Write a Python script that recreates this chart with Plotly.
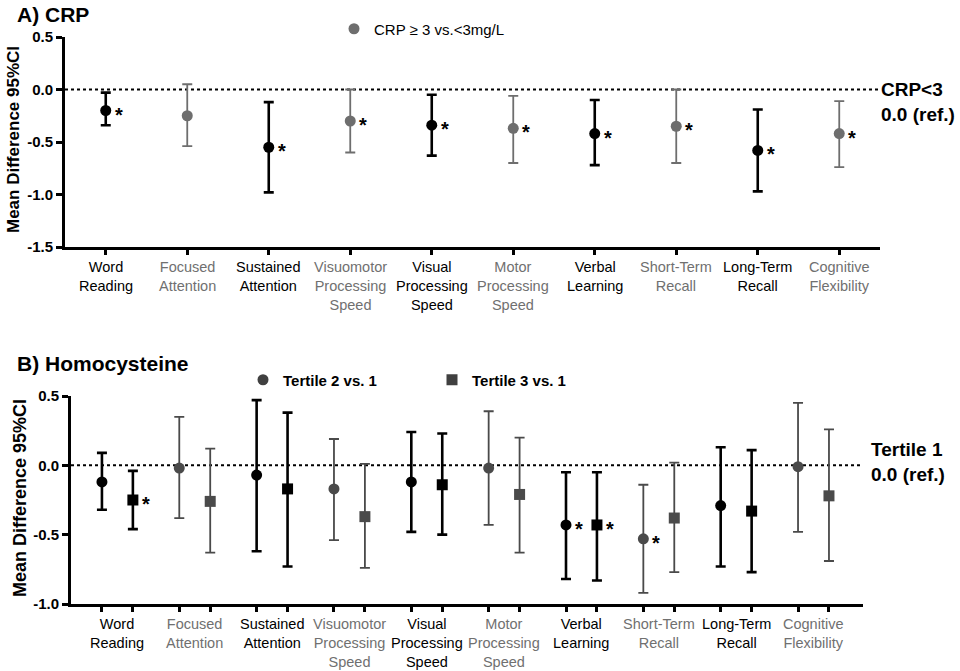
import plotly.graph_objects as go

# Dominios cognitivos
categories = ["Word<br>Reading", "Focused<br>Attention", "Sustained<br>Attention",
              "Visuomotor<br>Processing<br>Speed", "Visual<br>Processing<br>Speed",
              "Motor<br>Processing<br>Speed", "Verbal<br>Learning", "Short-Term<br>Recall",
              "Long-Term<br>Recall", "Cognitive<br>Flexibility"]

# A) CRP >= 3 vs. <3 mg/L
crp_mean = [-0.20, -0.25, -0.55, -0.30, -0.34, -0.37, -0.42, -0.35, -0.58, -0.42]
crp_lo = [-0.34, -0.54, -0.98, -0.60, -0.63, -0.70, -0.72, -0.70, -0.97, -0.74]
crp_hi = [-0.03, 0.05, -0.12, 0.00, -0.05, -0.06, -0.10, 0.00, -0.19, -0.11]
crp_sig = [1, 0, 1, 1, 1, 1, 1, 1, 1, 1]

# B) Homocisteina, tertil 2 vs. 1
t2_mean = [-0.12, -0.02, -0.07, -0.17, -0.12, -0.02, -0.43, -0.53, -0.29, -0.01]
t2_lo = [-0.32, -0.38, -0.62, -0.54, -0.48, -0.43, -0.82, -0.92, -0.73, -0.48]
t2_hi = [0.09, 0.35, 0.47, 0.19, 0.24, 0.39, -0.05, -0.14, 0.13, 0.45]
t2_sig = [0, 0, 0, 0, 0, 0, 1, 1, 0, 0]

# B) Homocisteina, tertil 3 vs. 1
t3_mean = [-0.25, -0.26, -0.17, -0.37, -0.14, -0.21, -0.43, -0.38, -0.33, -0.22]
t3_lo = [-0.46, -0.63, -0.73, -0.74, -0.50, -0.63, -0.83, -0.77, -0.77, -0.69]
t3_hi = [-0.04, 0.12, 0.38, 0.01, 0.23, 0.20, -0.05, 0.02, 0.11, 0.26]
t3_sig = [1, 0, 0, 0, 0, 0, 1, 0, 0, 0]

FONT = "Arial, Liberation Sans, sans-serif"
W, H = 960, 671
BLACK = "#000000"
GRAY_A = "#6e6e6e"
GRAY_B = "#4a4a4a"
LABEL_GRAY = "#707070"


def px(x):
    return x / W


def py(y):
    return 1 - y / H


fig = go.Figure()
annotations = []


def add_series(xs, mean, lo, hi, sig, symbol, gray, xref, yref):
    # separar por color (negro en pares, gris en impares)
    for parity, color, thick in [(0, BLACK, 2.6), (1, gray, 1.8)]:
        idx = [i for i in range(len(mean)) if i % 2 == parity]
        fig.add_trace(go.Scatter(
            x=[xs[i] for i in idx],
            y=[mean[i] for i in idx],
            mode="markers",
            marker=dict(symbol=symbol, size=11, color=color),
            error_y=dict(type="data", symmetric=False,
                         array=[hi[i] - mean[i] for i in idx],
                         arrayminus=[mean[i] - lo[i] for i in idx],
                         color=color, thickness=thick, width=5),
            xaxis=xref, yaxis=yref, showlegend=False, hoverinfo="skip",
        ))
    for i in range(len(mean)):
        if sig[i]:
            annotations.append(dict(
                x=xs[i], y=mean[i], xref=xref, yref=yref, text="<b>*</b>",
                showarrow=False, xshift=13, yshift=-4,
                font=dict(family=FONT, size=20, color=BLACK)))


n = len(categories)
add_series(list(range(n)), crp_mean, crp_lo, crp_hi, crp_sig, "circle", GRAY_A, "x", "y")
add_series([i - 0.2 for i in range(n)], t2_mean, t2_lo, t2_hi, t2_sig, "circle", GRAY_B, "x2", "y2")
add_series([i + 0.2 for i in range(n)], t3_mean, t3_lo, t3_hi, t3_sig, "square", GRAY_B, "x2", "y2")

# Entradas de leyenda
fig.add_trace(go.Scatter(x=[None], y=[None], mode="markers", name="CRP ≥ 3 vs.&lt;3mg/L",
                         marker=dict(symbol="circle", size=11, color=GRAY_A), legend="legend"))
fig.add_trace(go.Scatter(x=[None], y=[None], mode="markers", name="<b>Tertile 2 vs. 1</b>",
                         marker=dict(symbol="circle", size=11, color="#404040"), legend="legend2",
                         xaxis="x2", yaxis="y2"))
fig.add_trace(go.Scatter(x=[None], y=[None], mode="markers", name="<b>Tertile 3 vs. 1</b>",
                         marker=dict(symbol="square", size=11, color="#404040"), legend="legend3",
                         xaxis="x2", yaxis="y2"))

# Etiquetas de categorías
for i, cat in enumerate(categories):
    col = BLACK if i % 2 == 0 else LABEL_GRAY
    for xref, ytop in [("x", 257), ("x2", 614)]:
        annotations.append(dict(x=i, y=py(ytop), xref=xref, yref="paper", text=cat,
                                showarrow=False, xanchor="center", yanchor="top",
                                font=dict(family=FONT, size=14.5, color=col)))

# Títulos y textos
annotations += [
    dict(x=px(15), y=py(14), xref="paper", yref="paper", text="<b>A) CRP</b>", showarrow=False,
         xanchor="left", yanchor="middle", font=dict(family=FONT, size=21, color=BLACK)),
    dict(x=px(15), y=py(363), xref="paper", yref="paper", text="<b>B) Homocysteine</b>",
         showarrow=False, xanchor="left", yanchor="middle",
         font=dict(family=FONT, size=21, color=BLACK)),
    dict(x=px(13), y=py(140), xref="paper", yref="paper", text="<b>Mean Difference 95%CI</b>",
         showarrow=False, textangle=-90, xanchor="center", yanchor="middle",
         font=dict(family=FONT, size=17, color=BLACK)),
    dict(x=px(20), y=py(498), xref="paper", yref="paper", text="<b>Mean Difference 95%CI</b>",
         showarrow=False, textangle=-90, xanchor="center", yanchor="middle",
         font=dict(family=FONT, size=18, color=BLACK)),
    dict(x=px(879), y=0, xref="paper", yref="y", text="<b>CRP&lt;3<br>0.0 (ref.)</b>",
         showarrow=False, xanchor="left", yanchor="middle", yshift=-12, align="left",
         font=dict(family=FONT, size=19, color=BLACK)),
    dict(x=px(869), y=0, xref="paper", yref="y2", text="<b>Tertile 1<br>0.0 (ref.)</b>",
         showarrow=False, xanchor="left", yanchor="middle", yshift=3, align="left",
         font=dict(family=FONT, size=19, color=BLACK)),
]

# Líneas de referencia punteadas en 0
fig.add_shape(type="line", xref="x domain", yref="y", x0=0, x1=1, y0=0, y1=0,
              line=dict(color=BLACK, width=2, dash="dot"), layer="below")
fig.add_shape(type="line", xref="x2 domain", yref="y2", x0=0, x1=1, y0=0, y1=0,
              line=dict(color=BLACK, width=2, dash="dot"), layer="below")

axis_common = dict(showline=True, linewidth=3, linecolor=BLACK, ticks="outside",
                   tickwidth=3, tickcolor=BLACK, showgrid=False, zeroline=False,
                   automargin=False)
tickfont = dict(family=FONT, size=15, color=BLACK, weight="bold")

fig.update_layout(
    width=W, height=H,
    margin=dict(l=0, r=0, t=0, b=0, autoexpand=False),
    plot_bgcolor="white", paper_bgcolor="white",
    font=dict(family=FONT, color=BLACK),
    xaxis=dict(domain=[px(65), px(880)], range=[-0.5, 9.5], anchor="y",
               tickvals=list(range(n)), showticklabels=False, ticklen=5, **axis_common),
    yaxis=dict(domain=[py(247), py(37)], range=[-1.5, 0.5], anchor="x",
               tickvals=[0.5, 0, -0.5, -1.0, -1.5], ticktext=["0.5", "0.0", "-0.5", "-1.0", "-1.5"],
               tickfont=tickfont, ticklen=6, **axis_common),
    xaxis2=dict(domain=[px(71), px(863)], range=[-0.6, 9.64], anchor="y2",
                tickvals=sorted([i - 0.2 for i in range(n)] + [i + 0.2 for i in range(n)]),
                showticklabels=False, ticklen=5, **axis_common),
    yaxis2=dict(domain=[py(604), py(396)], range=[-1.0, 0.5], anchor="x2",
                tickvals=[0.5, 0, -0.5, -1.0], ticktext=["0.5", "0.0", "-0.5", "-1.0"],
                tickfont=tickfont, ticklen=6, **axis_common),
    legend=dict(x=px(334), y=py(29), xanchor="left", yanchor="middle", bgcolor="rgba(0,0,0,0)",
                font=dict(family=FONT, size=15, color=BLACK)),
    legend2=dict(x=px(243), y=py(380), xanchor="left", yanchor="middle", bgcolor="rgba(0,0,0,0)",
                 font=dict(family=FONT, size=15, color=BLACK)),
    legend3=dict(x=px(432), y=py(380), xanchor="left", yanchor="middle", bgcolor="rgba(0,0,0,0)",
                 font=dict(family=FONT, size=15, color=BLACK)),
    annotations=annotations,
)

# quitar el margen por defecto del body para que la figura ocupe la ventana
fig.write_html("out.html", config={"displayModeBar": False},
               post_script="document.body.style.margin='0px';")
